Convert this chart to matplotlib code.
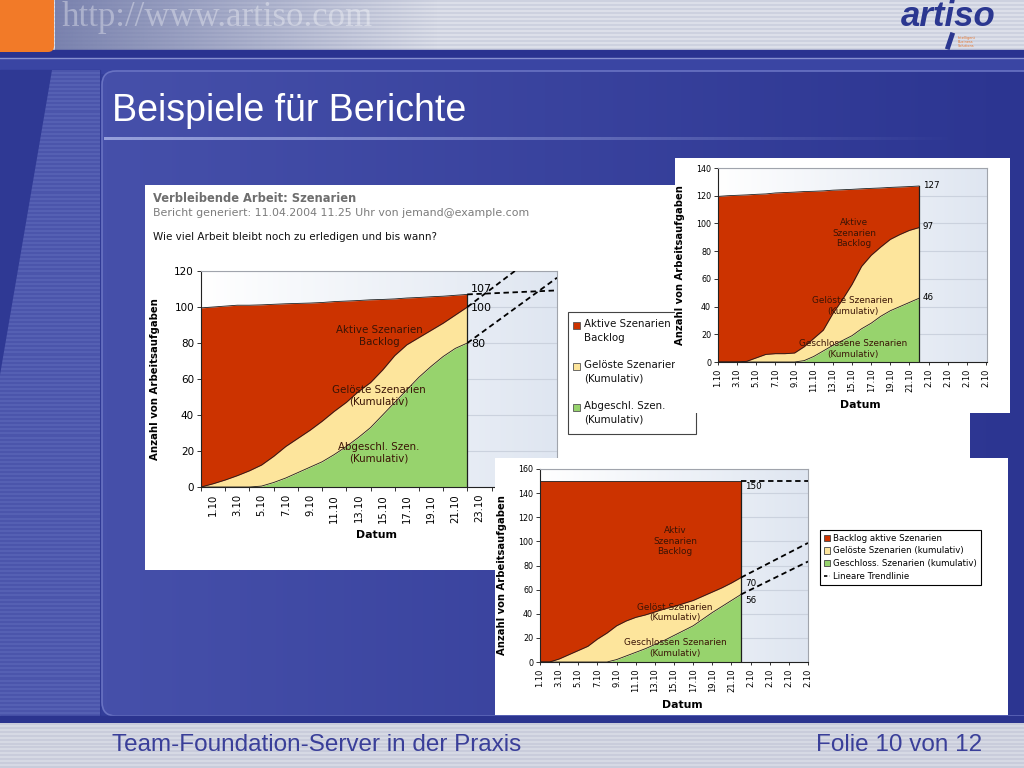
import numpy as np
import matplotlib.pyplot as plt
from matplotlib.patches import Rectangle, FancyBboxPatch, Polygon, Patch
from matplotlib.lines import Line2D
from matplotlib.colors import LinearSegmentedColormap, to_rgb

W, H = 1024, 768

# chart 1 (left, with header texts)
c1_labels = ['1.10', '3.10', '5.10', '7.10', '9.10', '11.10', '13.10',
             '15.10', '17.10', '19.10', '21.10', '23.10']
c1_backlog = [99.5, 100, 100.5, 101, 101, 101.2, 101.5, 101.8, 102, 102.2, 102.5, 103,
              103.3, 103.6, 104, 104.2, 104.5, 105, 105.3, 105.7, 106, 106.5, 107]
c1_geloest = [0, 1.8, 3.9, 6.3, 9, 12.2, 17, 22.5, 27, 31.5, 36.5, 42,
              47, 53, 58, 65, 73, 79, 83, 87, 91, 95.5, 100]
c1_abgeschl = [0, 0, 0, 0, 0, 0.5, 2.5, 5, 8, 11, 14, 18,
               22.5, 27.5, 33, 40, 47, 54, 61, 67, 72.5, 77, 80]
c1_trend_slopes = [0.3, 5.1, 4.9]          # backlog, geloest, abgeschl
c1_legend = ['Aktive Szenarien\nBacklog', 'Gelöste Szenarien\n(Kumulativ)',
             'Abgeschl. Szen.\n(Kumulativ)']

# chart 2 (top right)
c2_labels = ['1.10', '3.10', '5.10', '7.10', '9.10', '11.10', '13.10', '15.10',
             '17.10', '19.10', '21.10', '2.10', '2.10', '2.10', '2.10']
c2_backlog = [119.5, 120, 120.3, 120.6, 121, 121.3, 122, 122.3, 122.6, 123, 123.2,
              123.5, 124, 124.3, 124.6, 125, 125.3, 125.6, 126, 126.3, 126.6, 127]
c2_geloest = [0, 0, 0, 0.5, 3, 5.5, 6, 6, 6.5, 11, 17,
              23, 35, 45, 56, 69, 77, 83, 88.5, 92, 95, 97]
c2_geschl = [0, 0, 0, 0, 0, 0, 0, 0, 0, 1, 4,
             8, 12, 15.5, 19, 24, 28, 33, 37, 40, 43, 46]

# chart 3 (bottom right)
c3_labels = c2_labels
c3_backlog = [150, 150, 150, 150, 150, 150, 150, 150, 150, 150, 150,
              150, 150, 150, 150, 150, 150, 150, 150, 150, 150, 150]
c3_geloest = [0, 0, 2.5, 6, 9.5, 13, 19, 24, 30, 34, 37,
              39, 41.5, 44, 46, 48.5, 51, 54.5, 58, 61.5, 65.5, 70]
c3_geschl = [0, 0, 0, 0, 0, 0, 0, 0, 2, 5, 8,
             11, 14.5, 18, 22, 26, 30, 35.5, 41, 46, 51, 56]
c3_trend_slopes = [0, 4.1, 3.9]
c3_legend = ['Backlog aktive Szenarien', 'Gelöste Szenarien (kumulativ)',
             'Geschloss. Szenarien (kumulativ)', 'Lineare Trendlinie']

RED = '#cc3300'
YELLOW = '#fde59c'
GREEN = '#97d36d'
TXT = '#3a1406'

plt.rcParams['font.family'] = 'DejaVu Sans'
fig = plt.figure(figsize=(10.24, 7.68), dpi=100)


def box(x0, y0, x1, y1):
    return [x0 / W, 1 - y1 / H, (x1 - x0) / W, (y1 - y0) / H]


def hgrad(ax, extent, c0, c1, z=0):
    cmap = LinearSegmentedColormap.from_list('g', [c0, c1])
    return ax.imshow(np.linspace(0, 1, 256)[None, :], extent=extent, aspect='auto',
                     cmap=cmap, zorder=z, interpolation='bilinear')


def stripes(ax, extent, ca, cb, n, z=0):
    rows = np.arange(n)
    img = np.array([to_rgb(ca) if r % 2 else to_rgb(cb) for r in rows])[:, None, :]
    return ax.imshow(img, extent=extent, aspect='auto', zorder=z, interpolation='nearest')


# ---------------- slide background ----------------
bg = fig.add_axes([0, 0, 1, 1], zorder=0)
bg.set_xlim(0, W)
bg.set_ylim(H, 0)
bg.axis('off')
bg.add_patch(Rectangle((0, 0), W, H, color='#333e9a', zorder=0))

# header band
stripes(bg, (0, W, 50, 0), '#dcdfe9', '#cdd1df', 25, z=1)
photo = np.zeros((1, 256, 4))
photo[0, :, :3] = to_rgb('#6f78a8')
photo[0, :, 3] = np.linspace(0.9, 0, 256)
bg.imshow(photo, extent=(55, 440, 50, 0), aspect='auto', zorder=2)
bg.text(62, 17, 'http://www.artiso.com', family='Liberation Serif', fontsize=25,
        color='white', alpha=0.35, va='center', zorder=3)
bg.add_patch(FancyBboxPatch((-10, -10), 64, 62, boxstyle='round,pad=0,rounding_size=6',
                            facecolor='#f27a28', edgecolor='none', zorder=4))
bg.add_patch(Rectangle((0, 50), W, 8, color='#2a3390', zorder=2))
bg.plot([0, W], [58, 58], color='#8790cf', lw=1, zorder=3)
bg.add_patch(Rectangle((0, 58.5), W, 14, color='#3a45a3', zorder=2))

# artiso logo
bg.text(948, 17, 'artiso', family='Liberation Sans', fontsize=25, fontweight='bold',
        fontstyle='italic', color='#2b3790', ha='center', va='center', zorder=3)
bg.plot([952, 948], [35, 47], color='#2b3790', lw=3.5, zorder=3)
bg.text(958, 42, 'Intelligent\nBusiness\nSolutions', fontsize=2.5, color='#e8762c',
        va='center', linespacing=1.0, zorder=3)

# left strip
bg.add_patch(Rectangle((0, 70), 100, 650, color='#2f3994', zorder=2))
stripe_img = stripes(bg, (0, 100, 718, 70), '#5560b3', '#4b55ab', 320, z=3)
poly = Polygon([(52, 70), (100, 70), (100, 716), (0, 716), (0, 375)], closed=True,
               facecolor='none', edgecolor='none')
bg.add_patch(poly)
stripe_img.set_clip_path(poly)

# main panel
panel = FancyBboxPatch((102, 71), 940, 645, boxstyle='round,pad=0,rounding_size=14',
                       facecolor='none', edgecolor='#6973c3', lw=1.2, zorder=5)
bg.add_patch(panel)
main = hgrad(bg, (102, 1024, 716, 71), '#4650aa', '#2c3591', z=4)
main.set_clip_path(panel)

bg.text(112, 111, 'Beispiele für Berichte', family='Liberation Sans', fontsize=27,
        color='white', va='center', zorder=6)
line = np.zeros((1, 256, 4))
line[0, :, :3] = to_rgb('#97a1dc')
line[0, :, 3] = np.linspace(1, 0, 256)
bg.imshow(line, extent=(104, 960, 140.5, 137.5), aspect='auto', zorder=6)

# footer
bg.add_patch(Rectangle((0, 716), W, 7, color='#2b348f', zorder=6))
stripes(bg, (0, W, 768, 723), '#d6d9e4', '#c9ccdb', 23, z=6)
bg.text(112, 745, 'Team-Foundation-Server in der Praxis', family='Liberation Sans',
        fontsize=17.5, color='#3a3f99', va='center', zorder=7)
bg.text(982, 745, 'Folie 10 von 12', family='Liberation Sans', fontsize=17.5,
        color='#3a3f99', va='center', ha='right', zorder=7)


# ---------------- helpers for the report panels ----------------
def white_panel(x0, y0, x1, y1, z):
    ax = fig.add_axes(box(x0, y0, x1, y1), zorder=z)
    ax.set_xlim(x0, x1)
    ax.set_ylim(y1, y0)
    ax.add_patch(Rectangle((0, 0), 1, 1, transform=ax.transAxes, color='white', zorder=0))
    ax.axis('off')
    return ax


def area_chart(pos, z, backlog, geloest, closed, ymax, ystep, xmax, fs):
    ax = fig.add_axes(box(*pos), zorder=z)
    x = np.arange(len(backlog))
    hgrad(ax, (0, xmax, 0, ymax), '#ffffff', '#dfe6f1', z=0)
    ax.fill_between(x, 0, closed, color=GREEN, lw=0, zorder=1)
    ax.fill_between(x, closed, geloest, color=YELLOW, lw=0, zorder=1)
    ax.fill_between(x, geloest, backlog, color=RED, lw=0, zorder=1)
    for s in (closed, geloest, backlog):
        ax.plot(x, s, color='#1e1e1e', lw=0.6, zorder=2)
    ax.plot([x[-1], x[-1]], [0, backlog[-1]], color='#1e1e1e', lw=0.9, zorder=2)
    ax.set_xlim(0, xmax)
    ax.set_ylim(0, ymax)
    ax.set_yticks(np.arange(0, ymax + 1, ystep))
    ax.yaxis.grid(True, color='#cbd2de', lw=0.8)
    ax.set_axisbelow(True)
    for side in ('top', 'right'):
        ax.spines[side].set_color('#a0a4ac')
    for side in ('left', 'bottom'):
        ax.spines[side].set_color('#222222')
    for sp in ax.spines.values():
        sp.set_linewidth(0.8)
    ax.tick_params(axis='both', labelsize=fs, length=3, width=0.7, pad=2, color='#333333')
    return ax, x


def trend(ax, x, series, slopes, xmax):
    for s, k in zip(series, slopes):
        ax.plot([x[-1], xmax], [s[-1], s[-1] + k * (xmax - x[-1])], color='black',
                lw=1.3, dashes=(3, 2), zorder=3)


def axis_texts(ax, ylab_xy, xlab_xy, fs):
    ax.set_ylabel('Anzahl von Arbeitsaufgaben', fontsize=fs, fontweight='bold')
    ax.yaxis.set_label_coords(*ylab_xy)
    ax.set_xlabel('Datum', fontsize=fs + 0.6, fontweight='bold')
    ax.xaxis.set_label_coords(*xlab_xy)
    ax.xaxis.label.set_va('center')


# ---------------- panel 1 (left) ----------------
p1 = white_panel(145, 185, 970, 570, 1)
p1.text(153, 198, 'Verbleibende Arbeit: Szenarien', fontsize=8.3, fontweight='bold',
        color='#6e6e6e', va='center')
p1.text(153, 213, 'Bericht generiert: 11.04.2004 11.25 Uhr von jemand@example.com',
        fontsize=7.9, color='#7c7c7c', va='center')
p1.text(153, 237, 'Wie viel Arbeit bleibt noch zu erledigen und bis wann?',
        fontsize=7.5, color='#111111', va='center')
# legend of chart 1
p1.add_patch(Rectangle((568, 312), 128, 122, facecolor='white', edgecolor='#444444',
                       lw=0.8, zorder=1))
for i, (lab, col) in enumerate(zip(c1_legend, [RED, YELLOW, GREEN])):
    yy = 325 + i * 41
    p1.add_patch(Rectangle((573, yy - 3.5), 7, 7, facecolor=col, edgecolor='#555555',
                           lw=0.6, zorder=2))
    p1.text(584, yy - 6, lab, fontsize=7.4, color='#111111', va='top',
            linespacing=1.45, zorder=2)

ax1, x1 = area_chart((201, 271, 557, 487), 2, c1_backlog, c1_geloest, c1_abgeschl,
                     120, 20, 29.4, 7.5)
trend(ax1, x1, [c1_backlog, c1_geloest, c1_abgeschl], c1_trend_slopes, 29.4)
ax1.set_xticks(np.arange(0, 29.5, 2))
ax1.set_xticklabels([])
ax1.set_xticks(np.arange(1, 2 * len(c1_labels), 2), minor=True)
ax1.set_xticklabels(c1_labels, minor=True, rotation=90)
ax1.tick_params(axis='x', which='minor', length=0, labelsize=7.2, pad=5)
axis_texts(ax1, (-0.115, 0.5), (0.494, -0.222), 7.3)
ax1.text(x1[-1] + 0.3, c1_backlog[-1] + 0.5, '%d' % c1_backlog[-1], fontsize=8,
         va='bottom', zorder=4)
ax1.text(x1[-1] + 0.3, c1_geloest[-1] - 0.5, '%d' % c1_geloest[-1], fontsize=8,
         va='center', zorder=4)
ax1.text(x1[-1] + 0.3, c1_abgeschl[-1] - 0.5, '%d' % c1_abgeschl[-1], fontsize=8,
         va='center', zorder=4)
ax1.text(14.7, 84, 'Aktive Szenarien\nBacklog', fontsize=7.4, color=TXT, ha='center',
         va='center', zorder=4)
ax1.text(14.7, 50.5, 'Gelöste Szenarien\n(Kumulativ)', fontsize=7.4, color=TXT,
         ha='center', va='center', zorder=4)
ax1.text(14.7, 19, 'Abgeschl. Szen.\n(Kumulativ)', fontsize=7.4, color=TXT,
         ha='center', va='center', zorder=4)

# ---------------- panel 2 (top right) ----------------
p2 = white_panel(675, 158, 1010, 413, 3)
ax2, x2 = area_chart((718, 168, 987, 362), 4, c2_backlog, c2_geloest, c2_geschl,
                     140, 20, 28.1, 5.8)
ax2.set_xticks(np.arange(0, 2 * len(c2_labels), 2))
ax2.set_xticklabels(c2_labels, rotation=90)
ax2.tick_params(axis='x', length=2.5, labelsize=6)
axis_texts(ax2, (-0.123, 0.5), (0.528, -0.222), 7.2)
for s in (c2_backlog, c2_geloest, c2_geschl):
    ax2.text(x2[-1] + 0.4, s[-1] + 0.5, '%d' % s[-1], fontsize=6.3, va='center', zorder=4)
ax2.text(14.2, 93, 'Aktive\nSzenarien\nBacklog', fontsize=6.4, color=TXT, ha='center',
         va='center', zorder=4)
ax2.text(14.1, 40.4, 'Gelöste Szenarien\n(Kumulativ)', fontsize=6.4, color=TXT,
         ha='center', va='center', zorder=4)
ax2.text(14.1, 9.4, 'Geschlossene Szenarien\n(Kumulativ)', fontsize=6.4, color=TXT,
         ha='center', va='center', zorder=4)

# ---------------- panel 3 (bottom right) ----------------
p3 = white_panel(495, 458, 1008, 715, 5)
ax3, x3 = area_chart((540, 469, 808, 662), 6, c3_backlog, c3_geloest, c3_geschl,
                     160, 20, 28, 5.8)
trend(ax3, x3, [c3_backlog, c3_geloest, c3_geschl], c3_trend_slopes, 28)
ax3.set_xticks(np.arange(0, 2 * len(c3_labels), 2))
ax3.set_xticklabels(c3_labels, rotation=90)
ax3.tick_params(axis='x', length=2.5, labelsize=6)
axis_texts(ax3, (-0.123, 0.45), (0.53, -0.223), 7.2)
for s in (c3_backlog, c3_geloest, c3_geschl):
    ax3.text(x3[-1] + 0.4, s[-1] - 1, '%d' % s[-1], fontsize=6.3, va='top', zorder=4)
ax3.text(14.1, 100, 'Aktiv\nSzenarien\nBacklog', fontsize=6.4, color=TXT, ha='center',
         va='center', zorder=4)
ax3.text(14.1, 40.8, 'Gelöst Szenarien\n(Kumulativ)', fontsize=6.4, color=TXT,
         ha='center', va='center', zorder=4)
ax3.text(14.1, 11.7, 'Geschlossen Szenarien\n(Kumulativ)', fontsize=6.4, color=TXT,
         ha='center', va='center', zorder=4)
handles = [Patch(facecolor=c, edgecolor='#444444', lw=0.6) for c in (RED, YELLOW, GREEN)]
handles.append(Line2D([0], [0], color='black', lw=1.2, dashes=(2, 1.5)))
leg = ax3.legend(handles, c3_legend, loc='upper left', bbox_to_anchor=(820 / W, 1 - 530 / H),
                 bbox_transform=fig.transFigure, fontsize=6.2, fancybox=False,
                 edgecolor='black', framealpha=1, borderpad=0.45, labelspacing=0.42,
                 handlelength=0.75, handleheight=0.75, handletextpad=0.3, borderaxespad=0)
leg.get_frame().set_linewidth(0.8)

fig.savefig('out.png', dpi=100)
